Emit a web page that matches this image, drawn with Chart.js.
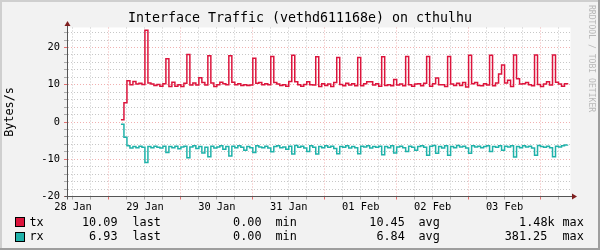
<!DOCTYPE html>
<html>
<head>
<meta charset="utf-8">
<script src="https://cdn.jsdelivr.net/npm/chart.js@4.4.1/dist/chart.umd.min.js"></script>
<style>
  html, body { margin: 0; padding: 0; background: #f2f2f2; }
  #wrap { width: 600px; height: 250px; }
</style>
</head>
<body>
<div id="wrap"><canvas id="trafficChart" width="600" height="250"></canvas></div>
<script>
// hours counted from 28 Jan 00:00, one sample per hour
const startHour = 28;
const dayLabels = ['28 Jan', '29 Jan', '30 Jan', '31 Jan', '01 Feb', '02 Feb', '03 Feb'];

const txBytes = [
  0.6, 5.2, 11.1, 10.0, 10.9, 10.2, 10.4, 10.1, 24.6, 10.5,
  10.2, 9.8, 10.1, 9.6, 10.3, 17.0, 9.5, 10.7, 9.6, 10.0,
  9.5, 10.4, 18.1, 9.9, 10.5, 9.9, 11.9, 10.6, 9.9, 17.8,
  10.5, 9.5, 10.0, 10.7, 10.3, 10.0, 17.8, 10.7, 10.0, 10.3,
  9.8, 10.0, 9.8, 9.9, 17.1, 10.4, 10.6, 10.0, 10.3, 10.0,
  17.6, 10.6, 10.2, 9.8, 10.0, 9.6, 10.9, 17.9, 10.8, 10.0,
  9.6, 10.1, 10.8, 10.0, 9.9, 17.5, 9.5, 10.3, 9.8, 10.2,
  9.5, 10.6, 17.3, 10.1, 9.7, 10.4, 9.9, 10.3, 9.7, 17.3,
  9.7, 10.3, 10.8, 10.8, 9.9, 10.3, 9.6, 17.5, 9.8, 10.0,
  9.7, 11.4, 9.9, 10.2, 9.7, 17.6, 10.0, 9.6, 10.2, 10.3,
  9.7, 10.4, 17.6, 9.6, 10.3, 11.8, 10.0, 10.0, 9.5, 17.6,
  10.2, 9.8, 10.4, 9.8, 10.6, 9.4, 17.9, 10.3, 10.6, 9.8,
  9.7, 10.3, 9.9, 17.9, 9.7, 10.5, 12.9, 15.3, 10.5, 11.2,
  9.5, 18.0, 11.6, 10.2, 10.3, 10.6, 10.0, 9.7, 18.0, 10.1,
  9.5, 10.2, 10.8, 9.9, 18.0, 10.7, 10.2, 9.6, 10.3, 10.1
];

// rx is drawn below the axis (mirrored)
const rxBytes = [
  0.6, 4.1, 6.4, 7.0, 6.6, 6.9, 6.5, 6.8, 10.9, 6.6,
  6.9, 6.5, 6.8, 7.0, 6.5, 8.2, 6.6, 6.9, 6.5, 7.2,
  6.7, 6.5, 9.6, 6.7, 6.4, 7.1, 6.6, 8.3, 6.8, 9.3,
  6.5, 7.0, 6.7, 6.4, 7.3, 6.6, 9.1, 6.5, 6.9, 6.4,
  6.8, 7.6, 6.6, 6.9, 8.2, 6.4, 6.7, 6.9, 6.5, 7.0,
  8.0, 6.6, 6.4, 6.9, 6.7, 7.3, 6.5, 8.6, 6.3, 6.8,
  6.5, 7.0, 7.9, 6.4, 6.8, 8.6, 6.6, 6.9, 6.4, 6.8,
  6.5, 7.1, 8.5, 6.6, 6.8, 6.4, 7.0, 6.6, 6.9, 8.5,
  6.5, 6.7, 6.4, 7.0, 6.6, 6.8, 6.5, 8.8, 6.6, 6.9,
  6.4, 8.3, 6.7, 6.5, 6.9, 7.9, 6.5, 6.8, 7.6, 6.6,
  6.4, 6.8, 8.9, 6.5, 6.3, 8.4, 6.6, 7.0, 6.4, 8.9,
  6.6, 6.9, 6.3, 6.7, 6.5, 7.0, 8.4, 6.4, 6.7, 6.5,
  6.9, 6.6, 6.4, 7.9, 6.6, 6.8, 6.4, 7.6, 6.5, 6.7,
  6.4, 9.4, 6.6, 6.9, 6.4, 6.7, 6.5, 7.0, 8.9, 6.3,
  6.6, 6.8, 6.5, 6.9, 9.3, 6.5, 6.7, 6.4, 6.2, 6.1
];

const seriesNames = ['tx', 'rx'];
const seriesColors = ['#dc143c', '#20b2aa'];
const lastVals = ['10.09', '6.93'];
const minVals = ['0.00', '0.00'];
const avgVals = ['10.45', '6.84'];
const maxVals = ['1.48k', '381.25'];

const MONO = '"DejaVu Sans Mono", monospace';
const minorGrid = 'rgba(143,143,143,0.5)';
const majorGrid = 'rgba(222,79,79,0.45)';

const toPoints = (arr, sign) => arr.map((v, i) => ({ x: startHour + i, y: sign * v }));

// background, frame, arrows, watermark and the rrd style legend
const rrdDecor = {
  id: 'rrdDecor',
  beforeDraw(chart) {
    const { ctx, chartArea: a } = chart;
    ctx.save();
    ctx.fillStyle = '#f2f2f2';
    ctx.fillRect(0, 0, chart.width, chart.height);
    ctx.fillStyle = '#cfcfcf';
    ctx.fillRect(0, 0, chart.width, 2);
    ctx.fillRect(0, 0, 2, chart.height);
    ctx.fillStyle = '#9e9e9e';
    ctx.fillRect(0, chart.height - 2, chart.width, 2);
    ctx.fillRect(chart.width - 2, 0, 2, chart.height);
    ctx.fillStyle = '#ffffff';
    ctx.fillRect(a.left, a.top, a.right - a.left, a.bottom - a.top);
    ctx.restore();
  },
  afterDraw(chart) {
    const { ctx, chartArea: a } = chart;
    const xl = Math.round(a.left) + 0.5;
    const yb = Math.round(a.bottom - 0.5) + 0.5;
    ctx.save();
    // axis extensions
    ctx.strokeStyle = '#555';
    ctx.lineWidth = 1;
    ctx.beginPath();
    ctx.moveTo(xl, yb + 3); ctx.lineTo(xl, a.top - 2);
    ctx.moveTo(xl - 3, yb); ctx.lineTo(a.right + 2, yb);
    ctx.stroke();
    // arrows
    ctx.fillStyle = '#7f1f1f';
    ctx.beginPath();
    ctx.moveTo(xl - 3, a.top - 1.5); ctx.lineTo(xl + 3, a.top - 1.5); ctx.lineTo(xl, a.top - 6.5);
    ctx.closePath(); ctx.fill();
    ctx.beginPath();
    ctx.moveTo(a.right + 1.5, yb - 3); ctx.lineTo(a.right + 1.5, yb + 3); ctx.lineTo(a.right + 6.5, yb);
    ctx.closePath(); ctx.fill();

    // watermark
    ctx.save();
    ctx.translate(591.5, 5);
    ctx.rotate(Math.PI / 2);
    ctx.font = '8.1px ' + MONO;
    ctx.fillStyle = '#b8b8b8';
    ctx.textBaseline = 'middle';
    ctx.textAlign = 'left';
    ctx.fillText('RRDTOOL / TOBI OETIKER', 0, 0);
    ctx.restore();

    // legend
    ctx.font = '11.8px ' + MONO;
    ctx.textBaseline = 'alphabetic';
    const rowBase = [226, 240];
    const boxTop = [217, 232];
    seriesNames.forEach((name, i) => {
      ctx.fillStyle = seriesColors[i];
      ctx.fillRect(15, boxTop[i], 10, 10);
      ctx.strokeStyle = '#000';
      ctx.strokeRect(15.5, boxTop[i] + 0.5, 9, 9);
      ctx.fillStyle = '#000';
      const y = rowBase[i];
      ctx.textAlign = 'left';
      ctx.fillText(name, 29.5, y);
      ctx.fillText('last', 132.5, y);
      ctx.fillText('min', 275.5, y);
      ctx.fillText('avg', 418.5, y);
      ctx.fillText('max', 562.5, y);
      ctx.textAlign = 'right';
      ctx.fillText(lastVals[i], 117.5, y);
      ctx.fillText(minVals[i], 261.5, y);
      ctx.fillText(avgVals[i], 404.8, y);
      ctx.fillText(maxVals[i], i === 0 ? 554.6 : 547.3, y);
    });
    ctx.restore();
  }
};

const ctx = document.getElementById('trafficChart').getContext('2d');
const trafficChart = new Chart(ctx, {
  type: 'line',
  data: {
    datasets: [
      {
        label: 'tx',
        data: toPoints(txBytes, 1),
        borderColor: seriesColors[0],
        borderWidth: 1.5,
        pointRadius: 0,
        stepped: 'before',
        fill: false
      },
      {
        label: 'rx',
        data: toPoints(rxBytes, -1),
        borderColor: seriesColors[1],
        borderWidth: 1.5,
        pointRadius: 0,
        stepped: 'before',
        fill: false
      }
    ]
  },
  options: {
    responsive: false,
    animation: false,
    devicePixelRatio: 1,
    layout: { padding: { top: 0, right: 0, bottom: 33, left: 0 } },
    plugins: {
      legend: { display: false },
      tooltip: { enabled: false },
      title: {
        display: true,
        text: 'Interface Traffic (vethd611168e) on cthulhu',
        color: '#000',
        font: { family: MONO, size: 13.3, weight: 'normal', lineHeight: 1.2 },
        padding: { top: 11, bottom: 0.54 }
      }
    },
    scales: {
      x: {
        type: 'linear',
        min: 10,
        max: 178,
        afterBuildTicks(axis) {
          const t = [];
          for (let h = 12; h < 178; h += 6) t.push({ value: h });
          axis.ticks = t;
        },
        afterFit(axis) { axis.height = 20.5; },
        ticks: {
          autoSkip: false,
          maxRotation: 0,
          minRotation: 0,
          padding: 2,
          color: '#000',
          font: { family: MONO, size: 10.35 },
          callback: (v) => (v % 24 === 12 ? dayLabels[(v - 12) / 24] : '')
        },
        grid: {
          color: (c) => (c.tick && c.tick.value % 24 === 0 ? majorGrid : minorGrid),
          tickColor: (c) => (c.tick && c.tick.value % 24 === 0 ? 'rgba(222,79,79,0.8)' : 'rgba(143,143,143,0.7)'),
          tickLength: 3,
          lineWidth: 1
        },
        border: { display: true, color: '#555', width: 1, dash: [1, 2] }
      },
      y: {
        min: -20,
        max: 25.37,
        afterBuildTicks(axis) {
          const t = [];
          for (let v = -20; v <= 24; v += 2) t.push({ value: v });
          axis.ticks = t;
        },
        afterFit(axis) { axis.width = 67; },
        ticks: {
          autoSkip: false,
          padding: 4,
          color: '#000',
          font: { family: MONO, size: 10.35 },
          callback: (v) => (v % 10 === 0 ? String(v) : '')
        },
        title: {
          display: true,
          text: 'Bytes/s',
          color: '#000',
          font: { family: MONO, size: 11.8 },
          padding: { top: 3, bottom: 0 }
        },
        grid: {
          color: (c) => (c.tick && c.tick.value % 10 === 0 ? majorGrid : minorGrid),
          tickColor: (c) => (c.tick && c.tick.value % 10 === 0 ? 'rgba(222,79,79,0.8)' : 'rgba(143,143,143,0.7)'),
          tickLength: 3,
          lineWidth: 1
        },
        border: { display: true, color: '#555', width: 1, dash: [1, 2] }
      },
      // empty right margin (watermark column)
      yRight: {
        position: 'right',
        display: true,
        afterFit(axis) { axis.width = 29.5; },
        ticks: { display: false },
        grid: { display: false, drawTicks: false },
        border: { display: false }
      }
    }
  },
  plugins: [rrdDecor]
});
</script>
</body>
</html>
